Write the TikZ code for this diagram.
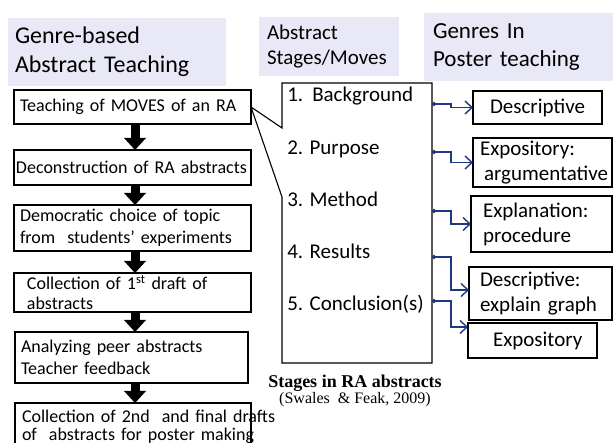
\documentclass[tikz,border=0pt]{standalone}
\usepackage{fontspec}
\setmainfont{Carlito}
\newfontfamily\timesfont{Liberation Serif}
\usetikzlibrary{arrows.meta,positioning}
\definecolor{headfill}{RGB}{232,232,246}
\definecolor{linkblue}{RGB}{31,56,130}
\begin{document}
\begin{tikzpicture}[
        x=1pt,y=-1pt,
        every node/.style={
                inner ysep=0pt, outer sep=0pt
            }
    ]
    \tikzset  {
        headnode/.style = {fill=headfill, anchor=north west, align=left},
        stepnode/.style = {draw=black, line width=1.1pt, anchor=north west, align=left, minimum width=237pt, font=\fontsize{18}{21.6}\selectfont},
        genrenode/.style = {draw=black, line width=1.1pt, anchor=north west, align=left, font=\fontsize{21}{25}\selectfont},
        stageitem/.style = {anchor=base west, font=\fontsize{21}{25}\selectfont},
        flowarrow/.style = {line width=9pt, -{Triangle[width=22pt,length=12pt,line width=0pt]}},
        genrelink/.style = {draw=linkblue, line width=1.4pt, {Circle[length=4pt]}-{Straight Barb[length=7pt,width=13pt]}},
    }
    \useasboundingbox (0,0) rectangle (613,443);
    \node [headnode, minimum width=218pt, minimum height=68pt, inner xsep=7pt, text width=204pt, font=\fontsize{24}{29}\selectfont] (leadhead) at (8,18) {Genre-based\\Abstract Teaching};
    \node [headnode, minimum width=140pt, minimum height=59pt, inner xsep=8pt, text width=124pt, font=\fontsize{21}{25}\selectfont] (stagehead) at (259,17) {Abstract\\Stages/Moves};
    \node [headnode, minimum width=189pt, minimum height=68pt, inner xsep=9pt, text width=171pt, font=\fontsize{23}{28}\selectfont] (genrehead) at (424,13) {Genres In\\Poster teaching};
    \node [stepnode, minimum height=34pt, inner xsep=6pt, text width=225pt] (b1) at (14,90) {Teaching of MOVES of an RA};
    \node [stepnode, minimum height=35pt, inner xsep=2pt, text width=233pt] (b2) at (14,150) {\mbox{Deconstruction of RA abstracts}};
    \node [stepnode, minimum height=46pt, inner xsep=6pt, text width=225pt] (b3) at (14,205) {\mbox{Democratic choice of topic}\\\mbox{from~ students’ experiments}};
    \node [stepnode, minimum height=39pt, inner xsep=13pt, text width=211pt, font=\fontsize{18}{20.5}\selectfont] (b4) at (14,273) {Collection of 1\textsuperscript{st} draft of\\abstracts};
    \node [stepnode, minimum width=233pt, minimum height=51pt, inner xsep=6pt, text width=221pt] (b5) at (15,332) {Analyzing peer abstracts\\Teacher feedback};
    \node [stepnode, minimum width=236pt, minimum height=48pt, inner xsep=7pt, text width=222pt, font=\fontsize{18}{18}\selectfont] (b6) at (15,403) {\mbox{Collection of 2nd~ and final drafts}\\\mbox{of~ abstracts for poster making}};
    \foreach \a/\b in {b1/b2,b2/b3,b3/b4,b4/b5,b5/b6}
    \draw [flowarrow] (\a.south -| 135,0) -- (\b.north -| 135,0);
    \node [anchor=north west, minimum width=150pt, minimum height=280pt] (stages) at (282,83) {};
    \draw [line width=1.1pt] (stages.north west) -- (stages.north east) -- (stages.south east) -- (stages.south west) -- ([yshift=-114pt]stages.north west) -- (b1.east) -- ([yshift=-45pt]stages.north west) -- cycle;
    \node [stageitem] (s1) at (284,102) {1.\hspace{9pt}Background};
    \node [stageitem] (s2) at (284,155) {2. Purpose};
    \node [stageitem] (s3) at (284,207) {3. Method};
    \node [stageitem] (s4) at (284,259) {4. Results};
    \node [stageitem] (s5) at (284,311) {5. Conclusion(s)};
    \node [anchor=base, font=\timesfont\bfseries\fontsize{18}{20}\selectfont] (caption) at (355,388) {Stages in RA abstracts};
    \node [anchor=base, font=\timesfont\fontsize{16}{18}\selectfont] (source) at (355,403) {(Swales~ \& Feak, 2009)};
    \node [genrenode, minimum width=129pt, minimum height=33pt, inner xsep=4pt, text width=121pt, align=center] (g1) at (473,91) {Descriptive};
    \node [genrenode, minimum width=139pt, minimum height=49pt, inner xsep=7pt, text width=125pt] (g2) at (473,138) {Expository:\\\mbox{\hspace{4pt}argumentative}};
    \node [genrenode, minimum width=141pt, minimum height=56pt, inner xsep=12pt, text width=117pt] (g3) at (471,196) {Explanation:\\procedure};
    \node [genrenode, minimum width=143pt, minimum height=53pt, inner xsep=11pt, text width=121pt] (g4) at (469,267) {Descriptive:\\explain graph};
    \node [genrenode, minimum width=129pt, minimum height=35pt, inner xsep=4pt, text width=121pt] (g5) at (468,323) {\hspace*{21pt}Expository};
    \coordinate (o1) at (432,104);
    \coordinate (o2) at (432,152);
    \coordinate (o3) at (432,211);
    \coordinate (o4) at (432,257);
    \coordinate (o5) at (432,301);
    \coordinate (t4) at ([yshift=3.5pt]g4.west);
    \coordinate (t5) at ([yshift=-4pt]g5.north west);
    \foreach \o/\g in {o1/g1.west,o2/g2.west,o3/g3.west,o4/t4,o5/t5}
    \draw [genrelink] (\o) -- (\o -| 451,0) |- (\g);
\end{tikzpicture}
\end{document}
